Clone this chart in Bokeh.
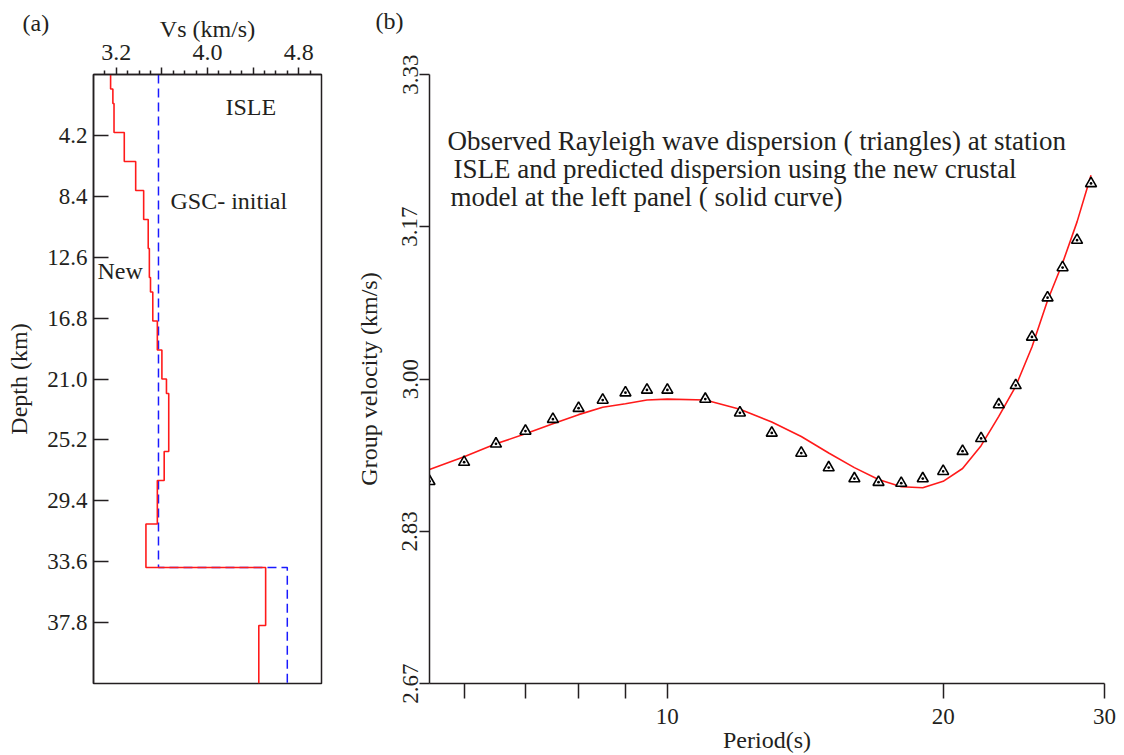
import numpy as np
from bokeh.plotting import figure
from bokeh.layouts import row
from bokeh.models import FixedTicker, PrintfTickFormatter, Label
from bokeh.embed import file_html
from bokeh.resources import INLINE

# ---------------- data ----------------
# (a) shear-velocity models: layer top depths (km) and Vs (km/s)
new_layer_top = [0, 1, 2, 4, 6, 8, 10, 12, 14, 15, 17, 19, 21, 22, 26, 28, 31, 34, 38]
new_vs = [3.15, 3.17, 3.18, 3.27, 3.37, 3.44, 3.48, 3.49, 3.50, 3.52, 3.56, 3.60, 3.64, 3.66, 3.62, 3.56, 3.46, 4.51, 4.45]
gsc_layer_top = [0, 34]
gsc_vs = [3.57, 4.70]
model_bottom = 42

depth_ticks = [4.2, 8.4, 12.6, 16.8, 21.0, 25.2, 29.4, 33.6, 37.8]
vs_ticks = [3.2, 3.6, 4.0, 4.4, 4.8]
vs_minor_ticks = [3.1, 3.3, 3.4, 3.5, 3.7, 3.8, 3.9, 4.1, 4.2, 4.3, 4.5, 4.6, 4.7, 4.9]
vs_label_overrides = {3.6: "", 4.4: ""}

# (b) Rayleigh-wave group velocity dispersion
obs_period = [5.5, 6, 6.5, 7, 7.5, 8, 8.5, 9, 9.5, 10, 11, 12, 13, 14, 15, 16, 17, 18, 19, 20,
              21, 22, 23, 24, 25, 26, 27, 28, 29]
obs_vel = [2.888, 2.909, 2.929, 2.943, 2.956, 2.968, 2.977, 2.985, 2.988, 2.988, 2.978, 2.963,
           2.941, 2.919, 2.903, 2.891, 2.887, 2.886, 2.891, 2.899, 2.921, 2.935, 2.972, 2.993,
           3.046, 3.089, 3.122, 3.152, 3.214]
pred_period = [5.5, 6, 6.5, 7, 7.5, 8, 8.5, 9, 9.5, 10, 11, 12, 13, 14, 15, 16, 17, 18, 19, 20,
               21, 22, 23, 24, 25, 26, 27, 28, 29]
pred_vel = [2.901, 2.915, 2.929, 2.940, 2.951, 2.961, 2.969, 2.973, 2.977, 2.978, 2.977, 2.967,
            2.953, 2.937, 2.919, 2.903, 2.890, 2.882, 2.881, 2.888, 2.902, 2.927, 2.959, 2.992,
            3.035, 3.086, 3.127, 3.172, 3.223]

vel_ticks = [2.6667, 2.8333, 3.0, 3.1667, 3.3333]
period_ticks = [10, 20, 30]
period_minor_ticks = [6, 7, 8, 9]

FONT = "Liberation Serif"
TXT = "#231f20"


def step_profile(tops, vs, bottom):
    xs, ys = [], []
    bottoms = list(tops[1:]) + [bottom]
    for t, b, v in zip(tops, bottoms, vs):
        xs += [v, v]
        ys += [t, b]
    return xs, ys


def style_axis(ax, size="23px"):
    ax.axis_line_color = TXT
    ax.axis_line_width = 1.5
    ax.major_tick_line_color = TXT
    ax.major_tick_line_width = 1.5
    ax.minor_tick_line_color = TXT
    ax.minor_tick_line_width = 1.5
    ax.major_label_text_font = FONT
    ax.major_label_text_font_size = size
    ax.major_label_text_color = TXT
    ax.axis_label_text_font = FONT
    ax.axis_label_text_font_size = "24px"
    ax.axis_label_text_font_style = "normal"
    ax.axis_label_text_color = TXT


def text_label(txt, sx, sy, size="24px"):
    return Label(x=sx, y=sy, x_units="screen", y_units="screen", text=txt,
                 text_font=FONT, text_font_size=size, text_color=TXT,
                 text_baseline="middle", text_align="left")


# ---------------- panel (a) ----------------
p1 = figure(frame_width=228, frame_height=609, min_border_left=93, min_border_right=19,
            min_border_top=74, min_border_bottom=72, x_range=(3.0, 5.0), y_range=(model_bottom, 0),
            x_axis_location="above", output_backend="svg", toolbar_location=None)
p1.grid.visible = False
p1.outline_line_color = TXT
p1.outline_line_width = 1.5
p1.background_fill_color = "white"
p1.border_fill_color = "white"

xa = p1.xaxis[0]
style_axis(xa, "24px")
xa.ticker = FixedTicker(ticks=vs_ticks, minor_ticks=vs_minor_ticks)
xa.formatter = PrintfTickFormatter(format="%.1f")
xa.major_label_overrides = vs_label_overrides
xa.major_tick_out = 7
xa.major_tick_in = 0
xa.minor_tick_out = 4
xa.minor_tick_in = 0
xa.axis_label = "Vs (km/s)"
xa.major_label_standoff = 8
xa.axis_label_standoff = 0

ya = p1.yaxis[0]
style_axis(ya, "23px")
ya.ticker = FixedTicker(ticks=depth_ticks)
ya.formatter = PrintfTickFormatter(format="%.1f")
ya.major_tick_in = 15
ya.major_tick_out = 0
ya.minor_tick_in = 0
ya.minor_tick_out = 0
ya.major_label_standoff = 6
ya.axis_label = "Depth (km)"
ya.axis_label_standoff = 12

gx, gy = step_profile(gsc_layer_top, gsc_vs, model_bottom)
p1.line(gx, gy, line_color="#1a1aff", line_width=1.5, line_dash="9 5")
nx, ny = step_profile(new_layer_top, new_vs, model_bottom)
p1.line(nx, ny, line_color="#ff1a1a", line_width=1.6)

for txt, sx, sy in [("ISLE", 132, 577), ("GSC- initial", 77, 483), ("New", 4, 413)]:
    p1.add_layout(text_label(txt, sx, sy))
# panel letter lives in the (empty) bottom side panel so it is not clipped to the frame
p1.add_layout(text_label("(a)", -71, 687), "below")

# ---------------- panel (b) ----------------
p2 = figure(frame_width=675, frame_height=609, min_border_left=89, min_border_right=20,
            min_border_top=74, min_border_bottom=72, x_axis_type="log",
            x_range=(5.5, 30), y_range=(vel_ticks[0], vel_ticks[-1]),
            output_backend="svg", toolbar_location=None)
p2.grid.visible = False
p2.outline_line_color = None
p2.background_fill_color = "white"
p2.border_fill_color = "white"

bx = p2.xaxis[0]
style_axis(bx, "23px")
bx.ticker = FixedTicker(ticks=period_ticks, minor_ticks=period_minor_ticks)
bx.formatter = PrintfTickFormatter(format="%d")
bx.major_tick_out = 15
bx.major_tick_in = 0
bx.minor_tick_out = 15
bx.minor_tick_in = 0
bx.major_label_standoff = 10
bx.axis_label = "Period(s)"
bx.axis_label_standoff = 0

by = p2.yaxis[0]
style_axis(by, "23px")
by.ticker = FixedTicker(ticks=vel_ticks)
by.formatter = PrintfTickFormatter(format="%.2f")
by.major_label_orientation = "vertical"
by.major_tick_out = 10
by.major_tick_in = 0
by.minor_tick_out = 0
by.minor_tick_in = 0
by.major_label_standoff = 2
by.axis_label = "Group velocity (km/s)"
by.axis_label_standoff = 18

p2.line(pred_period, pred_vel, line_color="#ff1a1a", line_width=1.6)
p2.scatter(obs_period, obs_vel, marker="triangle_dot", size=11, line_color="black",
           line_width=1.6, fill_color="white")

notes = [("Observed Rayleigh wave dispersion ( triangles) at station", 18, 543),
         ("ISLE and  predicted dispersion using the new crustal", 24, 515),
         ("model at  the left panel ( solid curve)", 21, 487)]
for txt, sx, sy in notes:
    p2.add_layout(text_label(txt, sx, sy, "27px"))
p2.add_layout(text_label("(b)", -54, 54), "above")

layout = row(p1, p2, spacing=0)
open("out.html", "w").write(file_html(layout, INLINE))
